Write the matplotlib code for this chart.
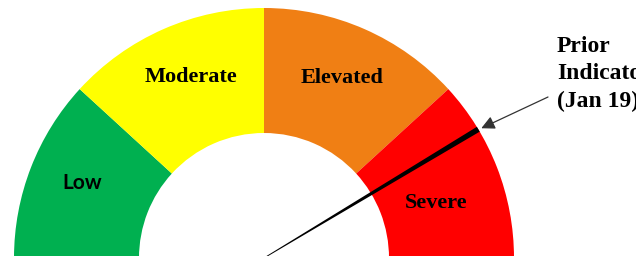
import numpy as np
import matplotlib
matplotlib.use('Agg')
from matplotlib import pyplot as plt
from matplotlib.patches import Wedge, Polygon

# gauge bands (degrees, 180 = left end, 0 = right end)
categories = ['Low', 'Moderate', 'Elevated', 'Severe']
band_start = [137.5, 90, 42.5, 0]
band_end = [180, 137.5, 90, 42.5]
colors = ['#00B050', '#FFFF00', '#F07F14', '#FF0000']
needle_angle = 31.0
needle_label = 'Prior\nIndicator\n(Jan 19)'

cx, cy = 264, -2
r_out, r_in = 250, 125

fig = plt.figure(figsize=(6.36, 2.56), dpi=100)
ax = fig.add_axes([0, 0, 1, 1])
ax.set_xlim(0, 636)
ax.set_ylim(0, 256)
ax.set_aspect('equal')
ax.axis('off')

for lab, a0, a1, c in zip(categories, band_start, band_end, colors):
    ax.add_patch(Wedge((cx, cy), r_out, a0, a1, width=r_out - r_in, facecolor=c, edgecolor='none'))

# label positions (angle, radius) picked by eye
label_pos = {'Low': (157.6, 197), 'Moderate': (112, 195), 'Elevated': (66.6, 196), 'Severe': (17.6, 181)}
for lab in categories:
    a, r = label_pos[lab]
    x = cx + r * np.cos(np.radians(a))
    y = cy + r * np.sin(np.radians(a))
    if lab == 'Low':
        ax.text(x, y, lab, ha='center', va='center', fontsize=15, fontweight='bold', family='Lato')
    else:
        ax.text(x, y, lab, ha='center', va='center', fontsize=16, fontweight='bold', family='Liberation Serif')

# tapered needle
t = np.radians(needle_angle)
ux, uy = np.cos(t), np.sin(t)
px, py = -uy, ux
tipx, tipy = cx + r_out * ux, cy + r_out * uy
needle = Polygon([(cx + 0.4 * px, cy + 0.4 * py), (tipx + 2.8 * px, tipy + 2.8 * py),
                  (tipx - 2.8 * px, tipy - 2.8 * py), (cx - 0.4 * px, cy - 0.4 * py)],
                 closed=True, facecolor='black', edgecolor='none')
ax.add_patch(needle)

ax.annotate('', xy=(tipx + 3, tipy + 1), xytext=(548, 159),
            arrowprops=dict(arrowstyle='-|>', color='#333333', lw=0.9, mutation_scale=20,
                            shrinkA=0, shrinkB=0))
ax.text(557, 182, needle_label, ha='left', va='center', fontsize=17, fontweight='bold',
        family='Liberation Serif', linespacing=1.4)

fig.savefig('out.png', dpi=100)
